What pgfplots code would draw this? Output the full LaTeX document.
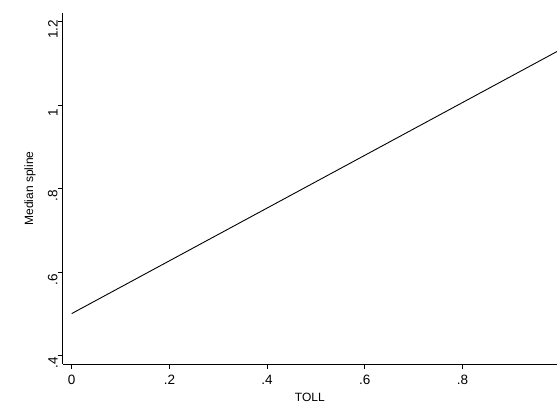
\documentclass[border=0pt]{standalone}
\usepackage{fontspec}
\setmainfont{Liberation Sans}
\usepackage{pgfplots}
\pgfplotsset{compat=1.18}
\begin{document}
\fontsize{12bp}{14bp}\selectfont
\begin{tikzpicture}
\useasboundingbox (0,0) rectangle (557bp,406bp);
\begin{axis}[
  at={(62.7bp,42bp)}, anchor=south west,
  scale only axis, width=494.3bp, height=351bp,
  xmin=-0.0184, xmax=0.9935, ymin=0.3791, ymax=1.2209,
  axis x line*=bottom, axis y line*=left,
  axis line style={line width=0.8bp},
  xtick={0,0.2,0.4,0.6,0.8}, xticklabels={0,.2,.4,.6,.8},
  ytick={0.4,0.6,0.8,1,1.2}, yticklabels={.4,.6,.8,1,1.2},
  tick align=outside, major tick length=5bp,
  tick style={black, line width=0.7bp},
  /pgf/number format/assume math mode=true,
  ticklabel style={font=\fontsize{13.5bp}{15bp}\selectfont},
  yticklabel style={rotate=90, anchor=south, inner sep=0pt, xshift=-7.5bp},
  xticklabel style={anchor=north, inner sep=0pt, yshift=-6bp},
  xlabel={TOLL}, ylabel={Median spline},
  label style={font=\fontsize{12bp}{14bp}\selectfont},
  xlabel style={at={(axis description cs:0.5,-0.094)}, anchor=center},
  ylabel style={at={(axis description cs:-0.066,0.5)}, anchor=center, rotate=0},
  clip=true,
]
\addplot[black, line width=0.9bp] coordinates {(0,0.5) (0.9935,1.1285)};
\end{axis}
\end{tikzpicture}
\end{document}
